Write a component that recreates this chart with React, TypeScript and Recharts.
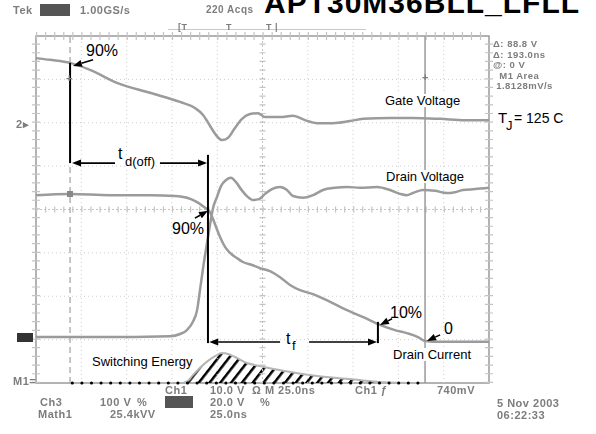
import React from "react";
import {
  ComposedChart,
  Line,
  Area,
  XAxis,
  YAxis,
  ReferenceLine,
  ReferenceArea,
} from "recharts";

// time in ns (25 ns/div), level in divisions (0 = bottom of screen)
const gateVoltage = [
  { t: 0, v: 7.49 }, { t: 7.7, v: 7.45 }, { t: 18.8, v: 7.38 }, { t: 29.8, v: 7.22 },
  { t: 44.7, v: 6.92 }, { t: 62.9, v: 6.69 }, { t: 79.5, v: 6.48 }, { t: 87.7, v: 6.34 },
  { t: 92.2, v: 6.18 }, { t: 96.0, v: 5.93 }, { t: 99.3, v: 5.72 }, { t: 102.6, v: 5.6 },
  { t: 105.9, v: 5.65 }, { t: 109.8, v: 5.88 }, { t: 113.7, v: 6.09 }, { t: 118.1, v: 6.2 },
  { t: 122.5, v: 6.22 }, { t: 126.4, v: 6.13 }, { t: 134.7, v: 6.13 }, { t: 141.8, v: 6.16 },
  { t: 148.5, v: 6.06 }, { t: 155.1, v: 5.99 }, { t: 163.9, v: 5.99 }, { t: 173.3, v: 6.04 },
  { t: 180.5, v: 6.09 }, { t: 195.4, v: 6.11 }, { t: 208.1, v: 6.11 }, { t: 223.0, v: 6.09 },
  { t: 236.8, v: 6.06 }, { t: 250, v: 6.06 },
];

const drainCurrent = [
  { t: 0, v: 4.33 }, { t: 18.8, v: 4.36 }, { t: 40.8, v: 4.33 }, { t: 62.9, v: 4.33 },
  { t: 76.7, v: 4.31 }, { t: 83.3, v: 4.27 }, { t: 88.9, v: 4.17 }, { t: 92.7, v: 4.06 },
  { t: 96.0, v: 3.94 }, { t: 98.8, v: 3.66 }, { t: 101.5, v: 3.37 }, { t: 104.3, v: 3.14 },
  { t: 107.1, v: 3.0 }, { t: 110.9, v: 2.88 }, { t: 114.2, v: 2.79 }, { t: 119.2, v: 2.72 },
  { t: 123.6, v: 2.65 }, { t: 129.1, v: 2.58 }, { t: 134.7, v: 2.44 }, { t: 140.2, v: 2.26 },
  { t: 145.7, v: 2.14 }, { t: 152.9, v: 2.05 }, { t: 162.3, v: 1.87 }, { t: 171.6, v: 1.68 },
  { t: 181.6, v: 1.5 }, { t: 189.8, v: 1.34 }, { t: 198.1, v: 1.22 }, { t: 204.7, v: 1.15 },
  { t: 210.8, v: 1.06 }, { t: 214.7, v: 0.97 }, { t: 223.0, v: 0.95 }, { t: 250, v: 0.95 },
];

const drainVoltage = [
  { t: 0, v: 1.06 }, { t: 35.3, v: 1.06 }, { t: 74.0, v: 1.08 }, { t: 79.5, v: 1.13 },
  { t: 83.3, v: 1.22 }, { t: 86.6, v: 1.41 }, { t: 88.9, v: 1.68 }, { t: 90.5, v: 2.14 },
  { t: 92.2, v: 2.65 }, { t: 94.4, v: 3.23 }, { t: 96.0, v: 3.64 }, { t: 97.7, v: 4.03 },
  { t: 99.9, v: 4.29 }, { t: 102.1, v: 4.54 }, { t: 104.9, v: 4.68 }, { t: 107.6, v: 4.73 },
  { t: 110.4, v: 4.63 }, { t: 113.1, v: 4.47 }, { t: 116.4, v: 4.31 }, { t: 119.8, v: 4.22 },
  { t: 123.1, v: 4.24 }, { t: 126.4, v: 4.36 }, { t: 130.2, v: 4.47 }, { t: 134.7, v: 4.52 },
  { t: 138.5, v: 4.45 }, { t: 141.8, v: 4.31 }, { t: 147.4, v: 4.27 }, { t: 152.9, v: 4.33 },
  { t: 158.4, v: 4.45 }, { t: 165.0, v: 4.5 }, { t: 171.6, v: 4.52 }, { t: 178.8, v: 4.5 },
  { t: 188.2, v: 4.52 }, { t: 195.4, v: 4.45 }, { t: 200.9, v: 4.36 }, { t: 204.7, v: 4.33 },
  { t: 209.2, v: 4.4 }, { t: 213.6, v: 4.45 }, { t: 220.2, v: 4.43 }, { t: 226.8, v: 4.38 },
  { t: 231.2, v: 4.4 }, { t: 235.7, v: 4.45 }, { t: 242.3, v: 4.47 }, { t: 250, v: 4.5 },
];

const switchingEnergy = [
  { t: 81.1, v: 0 }, { t: 83.9, v: 0.05 }, { t: 86.6, v: 0.18 }, { t: 90.5, v: 0.35 },
  { t: 94.9, v: 0.51 }, { t: 98.8, v: 0.62 }, { t: 102.6, v: 0.69 }, { t: 106.0, v: 0.67 },
  { t: 109.8, v: 0.6 }, { t: 116.4, v: 0.46 }, { t: 123.6, v: 0.39 }, { t: 136.3, v: 0.28 },
  { t: 155.1, v: 0.16 }, { t: 173.3, v: 0.09 }, { t: 191.5, v: 0.02 }, { t: 210.3, v: 0 },
];

const energyBaseline = [{ t: 20, v: 0 }, { t: 212, v: 0 }];

const xDivisions = [25, 50, 75, 100, 125, 150, 175, 200, 225];
const yDivisions = [1, 2, 3, 4, 5, 6, 7];
const cursorLeft = 18.8;
const cursorRight = 214.7;

const rightReadout = ["Δ: 88.8 V", "Δ: 193.0ns", "@: 0 V", "  M1 Area", " 1.8128mV/s"];

// black annotation lines / arrows, in (ns, div)
const markerLines = [
  { t: 18.8, from: 7.38, to: 5.07 },
  { t: 94.9, from: 5.26, to: 0.92 },
  { t: 188.7, from: 1.41, to: 0.92 },
];
const arrows = [
  { x1: 43.6, y1: 5.07, x2: 19.9, y2: 5.07 },
  { x1: 68.4, y1: 5.07, x2: 94.4, y2: 5.07 },
  { x1: 134.7, y1: 0.945, x2: 95.6, y2: 0.945 },
  { x1: 150.7, y1: 0.945, x2: 188.2, y2: 0.945 },
  { x1: 31.5, y1: 7.45, x2: 20.4, y2: 7.31 },
  { x1: 87.7, y1: 3.8, x2: 94.9, y2: 3.97 },
  { x1: 196.5, y1: 1.48, x2: 189.8, y2: 1.34 },
  { x1: 223.0, y1: 1.11, x2: 215.8, y2: 0.97 },
];

const TRACE = "#9b9b9b";
const GRID = "#cdcdcd";
const SANS = "Arial, 'Liberation Sans', Helvetica, sans-serif";

function ArrowShape(props: any) {
  const { x1, y1, x2, y2 } = props;
  const dx = x2 - x1;
  const dy = y2 - y1;
  const len = Math.hypot(dx, dy) || 1;
  const ux = dx / len;
  const uy = dy / len;
  const hl = 9;
  const hw = 3.5;
  const bx = x2 - ux * hl;
  const by = y2 - uy * hl;
  return (
    <g>
      <line x1={x1} y1={y1} x2={bx} y2={by} stroke="#000" strokeWidth={1.6} />
      <polygon
        points={`${x2},${y2} ${bx - uy * hw},${by + ux * hw} ${bx + uy * hw},${by - ux * hw}`}
        fill="#000"
      />
    </g>
  );
}

function Txt({
  x,
  y,
  size = 13,
  bg,
  color = "#000",
  weight = 400,
  blur,
  spacing,
  children,
}: any) {
  return (
    <div
      style={{
        position: "absolute",
        left: x,
        top: y,
        fontSize: size,
        lineHeight: 1,
        fontFamily: SANS,
        fontWeight: weight,
        color,
        background: bg,
        whiteSpace: "pre",
        letterSpacing: spacing,
        filter: blur ? `blur(${blur}px)` : undefined,
      }}
    >
      {children}
    </div>
  );
}

function ScopeTxt({ x, y, children, size = 11 }: any) {
  return (
    <Txt x={x} y={y} size={size} color="#7d7d7d" weight={700} blur={0.45} spacing={0.5}>
      {children}
    </Txt>
  );
}

function Box({ x, y, w, h, color = "#555" }: any) {
  return (
    <div
      style={{
        position: "absolute",
        left: x,
        top: y,
        width: w,
        height: h,
        background: color,
        filter: "blur(0.5px)",
      }}
    />
  );
}

export default function App() {
  return (
    <div
      style={{
        position: "absolute",
        left: 0,
        top: 0,
        width: 596,
        height: 434,
        background: "#fff",
        overflow: "hidden",
      }}
    >
      <ComposedChart
        width={596}
        height={434}
        margin={{ top: 36, right: 107, bottom: 51, left: 36 }}
      >
        <defs>
          <pattern
            id="hatch"
            patternUnits="userSpaceOnUse"
            width={8.5}
            height={8.5}
            patternTransform="rotate(38)"
          >
            <line x1={0} y1={0} x2={0} y2={8.5} stroke="#000" strokeWidth={5} />
          </pattern>
        </defs>
        <XAxis type="number" dataKey="t" domain={[0, 250]} hide />
        <YAxis type="number" dataKey="v" domain={[0, 8]} hide />

        {xDivisions.map((t) => (
          <ReferenceLine key={"gx" + t} x={t} stroke={GRID} strokeDasharray="1 3" />
        ))}
        {yDivisions.map((v) => (
          <ReferenceLine key={"gy" + v} y={v} stroke={GRID} strokeDasharray="1 3" />
        ))}
        {/* centre crosshair with minor ticks */}
        <ReferenceLine x={125} stroke="#c4c4c4" strokeWidth={6} strokeDasharray="1.2 7.475" />
        <ReferenceLine y={4} stroke="#c4c4c4" strokeWidth={6} strokeDasharray="1.2 7.86" />
        <ReferenceLine x={125} stroke="#c4c4c4" strokeDasharray="2 2" />
        <ReferenceLine y={4} stroke="#c4c4c4" strokeDasharray="2 2" />
        <ReferenceLine x={0} stroke="#c4c4c4" strokeWidth={8} strokeDasharray="1.2 7.475" />
        <ReferenceLine x={250} stroke="#c4c4c4" strokeWidth={8} strokeDasharray="1.2 7.475" />
        <ReferenceLine y={8} stroke="#c4c4c4" strokeWidth={8} strokeDasharray="1.2 7.86" />
        <ReferenceArea x1={0} x2={250} y1={0} y2={8} fill="none" stroke="#9a9a9a" strokeWidth={1.5} />

        {/* cursors */}
        <ReferenceLine x={cursorLeft} stroke="#b3b3b3" strokeWidth={1.5} strokeDasharray="6 4" />
        <ReferenceLine x={cursorRight} stroke="#9a9a9a" strokeWidth={1.5} />

        <Area
          data={switchingEnergy}
          dataKey="v"
          type="monotone"
          fill="url(#hatch)"
          fillOpacity={1}
          stroke="#b5b5b5"
          strokeWidth={2}
          isAnimationActive={false}
          dot={false}
          activeDot={false}
        />
        <Line
          data={energyBaseline}
          dataKey="v"
          stroke="#000"
          strokeWidth={3}
          strokeLinecap="round"
          strokeDasharray="0.1 9.5"
          dot={false}
          activeDot={false}
          isAnimationActive={false}
        />
        <Line
          data={gateVoltage}
          dataKey="v"
          type="monotone"
          stroke={TRACE}
          strokeWidth={2.5}
          dot={false}
          activeDot={false}
          isAnimationActive={false}
        />
        <Line
          data={drainCurrent}
          dataKey="v"
          type="monotone"
          stroke={TRACE}
          strokeWidth={2.5}
          dot={false}
          activeDot={false}
          isAnimationActive={false}
        />
        <Line
          data={drainVoltage}
          dataKey="v"
          type="monotone"
          stroke={TRACE}
          strokeWidth={2.5}
          dot={false}
          activeDot={false}
          isAnimationActive={false}
        />

        {markerLines.map((m, i) => (
          <ReferenceLine
            key={"ml" + i}
            segment={[
              { x: m.t, y: m.from },
              { x: m.t, y: m.to },
            ]}
            stroke="#000"
            strokeWidth={2}
            ifOverflow="visible"
          />
        ))}
        {arrows.map((a, i) => (
          <ReferenceLine
            key={"ar" + i}
            segment={[
              { x: a.x1, y: a.y1 },
              { x: a.x2, y: a.y2 },
            ]}
            stroke="#000"
            ifOverflow="visible"
            shape={ArrowShape}
          />
        ))}
      </ComposedChart>

      {/* header (cut by the top edge, as in the original scan) */}
      <Txt x={264} y={-12} size={30} weight={700} spacing={1}>
        APT30M36BLL_LFLL
      </Txt>
      <ScopeTxt x={13} y={5}>Tek</ScopeTxt>
      <Box x={40} y={4} w={30} h={12} />
      <ScopeTxt x={80} y={5}>1.00GS/s</ScopeTxt>
      <ScopeTxt x={206} y={5} size={10}>220 Acqs</ScopeTxt>
      <Box x={168} y={29} w={198} h={1} color="#c8c8c8" />
      <ScopeTxt x={178} y={23} size={9}>[T</ScopeTxt>
      <ScopeTxt x={226} y={23} size={9}>T</ScopeTxt>
      <ScopeTxt x={266} y={23} size={9}>T |</ScopeTxt>

      {/* right readout */}
      {rightReadout.map((s, i) => (
        <ScopeTxt key={s} x={493} y={39 + i * 10.5} size={9.5}>
          {s}
        </ScopeTxt>
      ))}

      {/* left channel markers */}
      <ScopeTxt x={16} y={119}>2▸</ScopeTxt>
      <Box x={17} y={333} w={16} h={9} color="#333" />
      <ScopeTxt x={13} y={376}>M1=</ScopeTxt>
      <ScopeTxt x={422} y={72}>+</ScopeTxt>
      <ScopeTxt x={66} y={73}>+</ScopeTxt>
      <Box x={67} y={191} w={6} h={6} color="#888" />

      {/* bottom readout */}
      <ScopeTxt x={165} y={385}>Ch1</ScopeTxt>
      <ScopeTxt x={210} y={385}>10.0 V</ScopeTxt>
      <ScopeTxt x={252} y={385}>Ω M 25.0ns</ScopeTxt>
      <ScopeTxt x={355} y={385}>Ch1 ƒ</ScopeTxt>
      <ScopeTxt x={437} y={385}>740mV</ScopeTxt>
      <ScopeTxt x={40} y={397}>Ch3</ScopeTxt>
      <ScopeTxt x={100} y={397}>100 V</ScopeTxt>
      <ScopeTxt x={137} y={397}>%</ScopeTxt>
      <Box x={165} y={396} w={28} h={12} />
      <ScopeTxt x={210} y={397}>20.0 V</ScopeTxt>
      <ScopeTxt x={260} y={397}>%</ScopeTxt>
      <ScopeTxt x={38} y={409}>Math1</ScopeTxt>
      <ScopeTxt x={110} y={409}>25.4kVV</ScopeTxt>
      <ScopeTxt x={210} y={409}>25.0ns</ScopeTxt>
      <ScopeTxt x={497} y={398}>5 Nov 2003</ScopeTxt>
      <ScopeTxt x={497} y={410}>06:22:33</ScopeTxt>

      {/* annotations */}
      <Txt x={86} y={43} size={16}>90%</Txt>
      <Txt x={118} y={146} size={16} bg="#fff">t</Txt>
      <Txt x={125} y={155} size={13} bg="#fff">d(off)</Txt>
      <Txt x={172} y={221} size={16} bg="#fff">90%</Txt>
      <Txt x={286} y={331} size={16} bg="#fff">t</Txt>
      <Txt x={292} y={339} size={13} bg="#fff">f</Txt>
      <Txt x={390} y={305} size={16}>10%</Txt>
      <Txt x={444} y={321} size={16}>0</Txt>
      <Txt x={385} y={94} size={13} bg="#fff">Gate Voltage</Txt>
      <Txt x={386} y={170} size={13} bg="#fff">Drain Voltage</Txt>
      <Txt x={393} y={348} size={13} bg="#fff">Drain Current</Txt>
      <Txt x={92} y={355} size={13} bg="#fff">Switching Energy</Txt>
      <Txt x={498} y={110} size={15}>T</Txt>
      <Txt x={506} y={119} size={13}>J</Txt>
      <Txt x={514} y={111} size={14}>= 125 C</Txt>
    </div>
  );
}
